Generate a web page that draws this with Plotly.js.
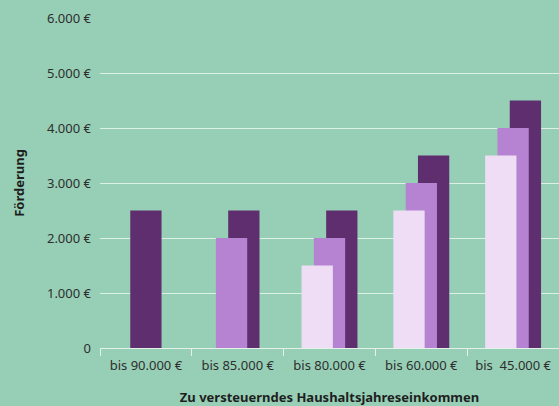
<!DOCTYPE html>
<html>
<head>
<meta charset="utf-8">
<script src="https://cdn.plot.ly/plotly-3.0.1.min.js"></script>
<style>html,body{margin:0;padding:0;background:#97CFB6;}#chart{width:559px;height:406px;}</style>
</head>
<body>
<div id="chart"></div>
<script>
const categories = ["bis 90.000 €", "bis 85.000 €", "bis 80.000 €", "bis 60.000 €", "bis\u00a0 45.000 €"];
const seriesDark = [2500, 2500, 2500, 3500, 4500];
const seriesMedium = [null, 2000, 2000, 3000, 4000];
const seriesLight = [null, null, 1500, 2500, 3500];
const yTickVals = [0, 1000, 2000, 3000, 4000, 5000, 6000];
const yTickText = ["0", "1.000 €", "2.000 €", "3.000 €", "4.000 €", "5.000 €", "6.000 €"];

// series ordered left to right within each group
const series = [seriesLight, seriesMedium, seriesDark];
const colors = ["#EEDDF4", "#B682D2", "#5F2E6F"];
const barW = 0.341, step = 0.134;

function offsetsFor(si) {
  return categories.map((c, ci) => {
    const present = series.map(s => s[ci] != null);
    const n = present.filter(Boolean).length;
    const k = present.slice(0, si).filter(Boolean).length;
    return -barW / 2 + (k - (n - 1) / 2) * step;
  });
}

// draw dark first (behind), light last (front)
const traces = [2, 1, 0].map(si => ({
  type: 'bar',
  x: categories,
  y: series[si],
  width: categories.map(() => barW),
  offset: offsetsFor(si),
  marker: { color: colors[si], line: { width: 0 } },
  hoverinfo: 'none'
}));

const layout = {
  width: 559, height: 406,
  margin: { l: 100, r: 0, t: 18, b: 58 },
  paper_bgcolor: '#97CFB6',
  plot_bgcolor: '#97CFB6',
  barmode: 'overlay',
  showlegend: false,
  font: { family: 'Noto Sans, sans-serif', size: 13, color: '#2E2E2E' },
  xaxis: {
    type: 'category',
    tickson: 'boundaries',
    ticks: 'outside',
    ticklen: 7,
    tickcolor: '#E2F2EA',
    tickwidth: 1,
    showline: true,
    linecolor: '#E2F2EA',
    linewidth: 1,
    showgrid: false,
    ticklabelstandoff: 5,
    tickfont: { size: 13, color: '#2E2E2E' },
    title: { text: '<b>Zu versteuerndes Haushaltsjahreseinkommen</b>', font: { size: 13, color: '#1E1E1E' }, standoff: 22 },
    range: [-0.5, 4.5],
    fixedrange: true
  },
  yaxis: {
    range: [0, 6000],
    tickvals: yTickVals,
    ticktext: yTickText,
    showgrid: true,
    gridcolor: '#DDF0E6',
    gridwidth: 1,
    zeroline: false,
    ticks: '',
    ticklabelstandoff: 8,
    tickfont: { size: 13, color: '#2E2E2E' },
    title: { text: '<b>Förderung</b>', font: { size: 13, color: '#1E1E1E' }, standoff: 19 },
    fixedrange: true
  }
};

Plotly.newPlot('chart', traces, layout, { displayModeBar: false, staticPlot: true });
</script>
</body>
</html>
